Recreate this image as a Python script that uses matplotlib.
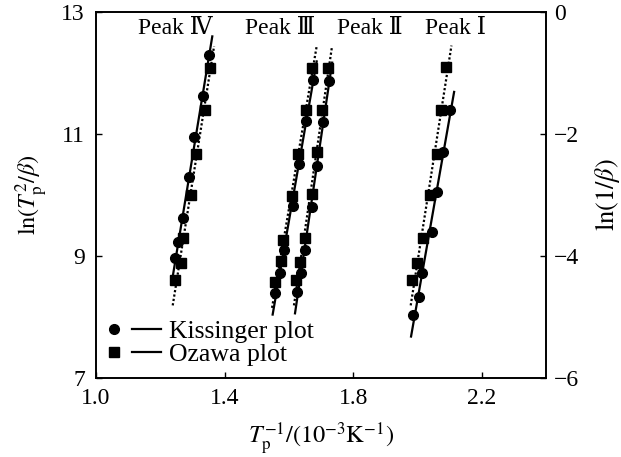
import numpy as np
import matplotlib
matplotlib.use("Agg")
import matplotlib.pyplot as plt
from matplotlib.lines import Line2D
from matplotlib.legend_handler import HandlerTuple

plt.rcParams["font.family"] = ["Liberation Serif", "DejaVu Serif"]
plt.rcParams["mathtext.fontset"] = "stix"

# peak labels, left to right on the chart
peak_names = ["Peak Ⅳ", "Peak Ⅲ", "Peak Ⅱ", "Peak Ⅰ"]

# Kissinger: x = 1/Tp (10^-3 K^-1), y = ln(Tp^2/beta)  (left axis)
kis_x_IV = [1.352, 1.334, 1.306, 1.290, 1.272, 1.256, 1.247]
kis_y_IV = [12.30, 11.62, 10.95, 10.30, 9.63, 9.23, 8.96]
kis_x_III = [1.675, 1.653, 1.632, 1.613, 1.585, 1.573, 1.557]
kis_y_III = [11.89, 11.21, 10.51, 9.82, 9.10, 8.72, 8.39]
kis_x_II = [1.725, 1.706, 1.688, 1.672, 1.650, 1.638, 1.625]
kis_y_II = [11.87, 11.20, 10.48, 9.80, 9.10, 8.72, 8.41]
kis_x_I = [2.101, 2.081, 2.060, 2.045, 2.013, 2.006, 1.985]
kis_y_I = [11.39, 10.71, 10.05, 9.40, 8.72, 8.33, 8.03]

# Ozawa: x = 1/Tp, y = ln(1/beta)  (right axis)
oza_x_IV = [1.355, 1.339, 1.311, 1.295, 1.272, 1.264, 1.247]
oza_y_IV = [-0.91, -1.61, -2.32, -3.00, -3.71, -4.12, -4.39]
oza_x_III = [1.673, 1.653, 1.629, 1.611, 1.583, 1.575, 1.557]
oza_y_III = [-0.92, -1.61, -2.33, -3.02, -3.73, -4.09, -4.43]
oza_x_II = [1.723, 1.703, 1.687, 1.671, 1.650, 1.636, 1.622]
oza_y_II = [-0.92, -1.61, -2.30, -2.98, -3.71, -4.10, -4.39]
oza_x_I = [2.089, 2.073, 2.060, 2.039, 2.018, 1.998, 1.982]
oza_y_I = [-0.90, -1.61, -2.32, -3.00, -3.71, -4.12, -4.39]

kis_sets = [(kis_x_IV, kis_y_IV), (kis_x_III, kis_y_III),
            (kis_x_II, kis_y_II), (kis_x_I, kis_y_I)]
oza_sets = [(oza_x_IV, oza_y_IV), (oza_x_III, oza_y_III),
            (oza_x_II, oza_y_II), (oza_x_I, oza_y_I)]

label_x = [1.246, 1.572, 1.852, 2.117]
label_y = 12.73


def fit_line(ax, xs, ys, ext_lo, ext_hi, **kw):
    # x as a function of y, the lines are steep
    k, b = np.polyfit(ys, xs, 1)
    yy = np.array([min(ys) - ext_lo, max(ys) + ext_hi])
    ax.plot(k * yy + b, yy, color="black", **kw)


fig = plt.figure(figsize=(6.21, 4.57), dpi=100)
ax = fig.add_axes([96 / 621, 79 / 457, 450 / 621, 366 / 457])
ax2 = ax.twinx()

for xs, ys in kis_sets:
    fit_line(ax, xs, ys, 0.35, 0.3, lw=1.6, zorder=2)
    ax.plot(xs, ys, "o", color="black", ms=7, zorder=3)

for xs, ys in oza_sets:
    fit_line(ax2, xs, ys, 0.42, 0.35, lw=1.6, ls=(0, (1, 1)), zorder=2)
    ax2.plot(xs, ys, "s", color="black", ms=6.5, zorder=3)

for name, lx in zip(peak_names, label_x):
    ax.text(lx, label_y, name, ha="center", va="center", fontsize=17)

ax.set_xlim(1.0, 2.4)
ax.set_ylim(7, 13)
ax2.set_ylim(-6, 0)
ax.set_xticks([1.0, 1.4, 1.8, 2.2])
ax.set_xticklabels(["1.0", "1.4", "1.8", "2.2"])
ax.set_yticks([7, 9, 11, 13])
ax2.set_yticks([-6, -4, -2, 0])
ax2.set_yticklabels(["−6", "−4", "−2", "0"])

ax.tick_params(axis="x", direction="in", length=4, width=1, labelsize=17, top=False, pad=7)
ax.tick_params(axis="y", direction="in", length=4, width=1, labelsize=17, pad=8)
ax2.tick_params(direction="in", length=4, width=1, labelsize=17, pad=6)
for a in (ax, ax2):
    for s in a.spines.values():
        s.set_linewidth(1.2)

ax.set_ylabel(r"$\mathrm{ln}(T_\mathrm{p}^2/\beta)$", fontsize=17.5, labelpad=8)
ax2.set_ylabel(r"$\mathrm{ln}(1/\beta)$", fontsize=19, labelpad=10)
ax.set_xlabel(r"$T_\mathrm{p}^{-1}/(10^{-3}\mathrm{K}^{-1})$", fontsize=17.5, labelpad=8)

h_k = (Line2D([], [], marker="o", ls="none", color="black", ms=7),
       Line2D([], [], color="black", lw=1.6))
h_o = (Line2D([], [], marker="s", ls="none", color="black", ms=6.5),
       Line2D([], [], color="black", lw=1.6))
ax.legend([h_k, h_o], ["Kissinger plot", "Ozawa plot"],
          handler_map={tuple: HandlerTuple(ndivide=None, pad=0.1)},
          loc="lower left", bbox_to_anchor=(-0.015, 0.005), frameon=False,
          fontsize=18.5, handlelength=2.4, handletextpad=0.3, labelspacing=0.0,
          borderaxespad=0)

fig.savefig("out.png", dpi=100)
